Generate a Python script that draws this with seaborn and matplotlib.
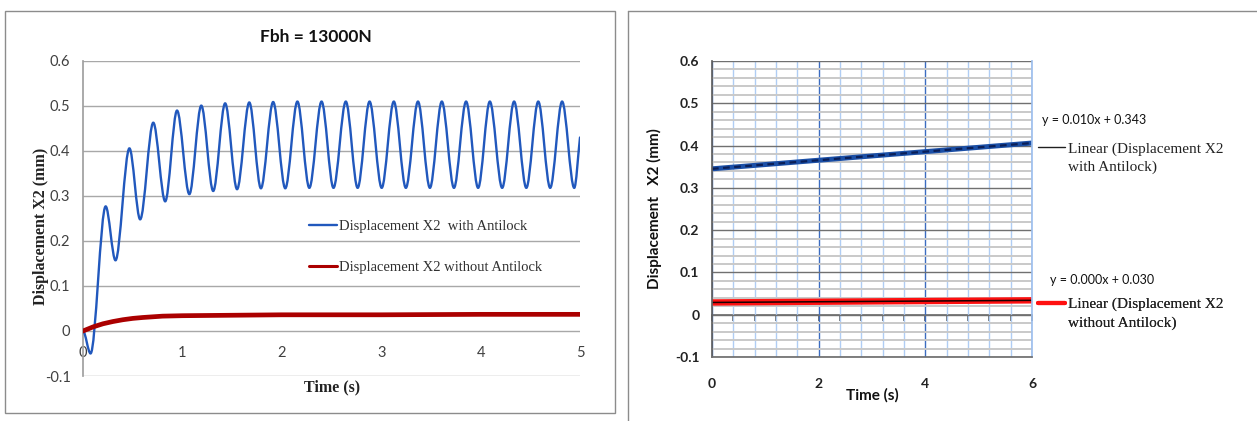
import matplotlib
matplotlib.use("Agg")
import matplotlib.pyplot as plt
import seaborn as sns
from matplotlib.ticker import FixedLocator, MultipleLocator
from matplotlib.lines import Line2D
from matplotlib.patches import Rectangle, PathPatch
from matplotlib.path import Path

# ---------------- data ----------------
# left chart: blue curve read at its start, peaks / troughs and end
blue_t = [0.000, 0.076, 0.228, 0.327, 0.467, 0.575, 0.707, 0.827, 0.946, 1.070,
          1.190, 1.310, 1.430, 1.550, 1.673, 1.790, 1.913, 2.035, 2.157, 2.277,
          2.400, 2.520, 2.644, 2.763, 2.883, 3.005, 3.127, 3.248, 3.370, 3.490,
          3.610, 3.732, 3.854, 3.975, 4.093, 4.217, 4.337, 4.460, 4.580, 4.700,
          4.820, 4.942, 5.000]
blue_y = [0.000, -0.050, 0.277, 0.157, 0.406, 0.248, 0.463, 0.288, 0.490, 0.304,
          0.501, 0.311, 0.506, 0.315, 0.508, 0.317, 0.509, 0.317, 0.510, 0.318,
          0.510, 0.318, 0.510, 0.318, 0.510, 0.318, 0.510, 0.318, 0.510, 0.318,
          0.510, 0.318, 0.510, 0.318, 0.510, 0.318, 0.510, 0.318, 0.510, 0.318,
          0.510, 0.318, 0.430]
red_t = [0.0, 0.1, 0.2, 0.3, 0.4, 0.5, 0.6, 0.8, 1.0, 1.5, 2.0, 3.0, 4.0, 5.0]
red_y = [0.000, 0.009, 0.016, 0.021, 0.025, 0.028, 0.030, 0.033, 0.034, 0.035,
         0.036, 0.036, 0.037, 0.037]
left_labels = ["Displacement X2  with Antilock", "Displacement X2 without Antilock"]
left_xticks = [0, 1, 2, 3, 4, 5]
yticks = [-0.1, 0.0, 0.1, 0.2, 0.3, 0.4, 0.5, 0.6]
ytick_labels = ["-0.1", "0", "0.1", "0.2", "0.3", "0.4", "0.5", "0.6"]

# right chart: linear trend lines
trend_t = [0.0, 6.0]
trend_with = [0.345, 0.406]
trend_without = [0.029, 0.034]
right_xticks = [0, 2, 4, 6]
right_minor_x = [0.4, 0.8, 1.2, 1.6, 2.4, 2.8, 3.2, 3.6, 4.4, 4.8, 5.2, 5.6, 6.0]
equations = ["y = 0.010x + 0.343", "y = 0.000x + 0.030"]
right_labels = [("Linear (Displacement X2", "with Antilock)"),
                ("Linear (Displacement X2", "without Antilock)")]

# ---------------- style ----------------
sns.set_theme(style="white")
plt.rcParams["font.family"] = ["Lato", "DejaVu Sans"]
SERIF = "Liberation Serif"
BLUE = "#2158bd"
DRED = "#ab0000"

W, H = 1257, 421
fig = plt.figure(figsize=(W / 100, H / 100), dpi=100)
fig.patch.set_facecolor("white")

# frames
fig.add_artist(Rectangle((5 / W, 1 - 413 / H), 610 / W, 402 / H, transform=fig.transFigure,
                         fill=False, ec="#8c8c8c", lw=1))
fig.add_artist(Line2D([628 / W, 1.0], [1 - 11 / H, 1 - 11 / H], transform=fig.transFigure,
                      color="#8c8c8c", lw=1))
fig.add_artist(Line2D([628 / W, 628 / W], [0, 1 - 11 / H], transform=fig.transFigure,
                      color="#8c8c8c", lw=1))

# ================= left chart =================
axL = fig.add_axes([83 / W, 1 - 376 / H, 497 / W, 315 / H])


def smoothed_path(xs, ys):
    """Excel-style 'smoothed line': cubic Bezier segments through the given points,
    flat tangents at the read extrema, straight-ish tangent into the last point."""
    verts = [(xs[0], ys[0])]
    codes = [Path.MOVETO]
    n = len(xs)
    for i in range(1, n):
        x0, y0, x1, y1 = xs[i - 1], ys[i - 1], xs[i], ys[i]
        dx = x1 - x0
        c1 = (x0 + dx / 3, y0)
        if i == n - 1:
            c2 = (x1 - dx / 3, y1 - (y1 - y0) / 3)
        else:
            c2 = (x1 - dx / 3, y1)
        verts += [c1, c2, (x1, y1)]
        codes += [Path.CURVE4] * 3
    return Path(verts, codes)


axL.add_patch(PathPatch(smoothed_path(blue_t, blue_y), fill=False, ec=BLUE, lw=1.7,
                        joinstyle="round", capstyle="round", zorder=3))
sns.lineplot(x=red_t, y=red_y, ax=axL, color=DRED, lw=3.4, estimator=None, sort=False, zorder=4)
axL.set_xlim(0, 5)
axL.set_ylim(-0.1, 0.6)
axL.set_yticks(yticks, ytick_labels)
axL.set_xticks(left_xticks, [str(v) for v in left_xticks])
axL.grid(axis="y", color="#a8a8a8", lw=1)
axL.set_axisbelow(True)
for s in ("top", "right"):
    axL.spines[s].set_visible(False)
axL.spines["left"].set_color("#a0a0a0")
axL.spines["bottom"].set_position(("data", 0))
axL.spines["bottom"].set_visible(False)
axL.tick_params(axis="x", length=0, pad=11, labelsize=10.5, labelcolor="#404040")
axL.tick_params(axis="y", length=0, pad=9, labelsize=10.5, labelcolor="#404040")
axL.set_xlabel("Time (s)", fontfamily=SERIF, fontweight="bold", fontsize=11.5, color="#222222")
axL.xaxis.set_label_coords(0.501, -0.035)
axL.xaxis.label.set_va("center")
axL.set_ylabel("Displacement X2 (mm)", fontfamily=SERIF, fontweight="bold", fontsize=11.5,
               color="#222222")
axL.yaxis.set_label_coords(-0.084, 0.476)
axL.yaxis.label.set_va("center")
fig.text(316 / W, 1 - 37 / H, "Fbh = 13000N", ha="center", va="center",
         fontsize=12.5, fontweight="bold", color="#111111")
hL = [Line2D([], [], color=BLUE, lw=1.7), Line2D([], [], color=DRED, lw=2.2)]
axL.legend(hL, left_labels, loc="upper left", bbox_to_anchor=(0.455, 0.497), frameon=False,
           prop={"family": SERIF, "size": 10.5}, handlelength=1.9, handletextpad=0.15,
           labelspacing=1.95, borderpad=0, borderaxespad=0, labelcolor="#303030")

# ================= right chart =================
axR = fig.add_axes([712 / W, 1 - 357 / H, 320 / W, 296 / H])
axR.set_xlim(0, 6)
axR.set_ylim(-0.1, 0.6)
axR.xaxis.set_major_locator(FixedLocator(right_xticks))
axR.xaxis.set_minor_locator(FixedLocator(right_minor_x))
axR.yaxis.set_major_locator(FixedLocator(yticks))
axR.yaxis.set_minor_locator(MultipleLocator(0.02))
axR.grid(which="minor", axis="y", color="#c9c9c9", lw=1.4)
axR.grid(which="major", axis="y", color="#707070", lw=1)
axR.grid(which="minor", axis="x", color="#b0cdf4", lw=1)
axR.grid(which="major", axis="x", color="#3c6cc0", lw=1)
axR.set_axisbelow(True)

sns.lineplot(x=trend_t, y=trend_with, ax=axR, color="#1b4fa6", lw=3.6)
sns.lineplot(x=trend_t, y=trend_with, ax=axR, color="#0a1f58", lw=1.6, linestyle=(0, (3, 2)))
sns.lineplot(x=trend_t, y=trend_without, ax=axR, color="#ff1010", lw=4.6)
sns.lineplot(x=trend_t, y=trend_without, ax=axR, color="#1a0000", lw=1.1)

axR.set_xticks(right_xticks, [str(v) for v in right_xticks], fontweight="bold")
axR.set_yticks(yticks, ytick_labels, fontweight="bold")
axR.tick_params(axis="x", which="both", length=0, pad=15, labelsize=10, labelcolor="#222222")
axR.tick_params(axis="y", which="major", length=5, width=1, color="#606060", direction="out",
                pad=4, labelsize=10, labelcolor="#222222")
axR.tick_params(axis="y", which="minor", length=0)
axR.spines["top"].set_visible(False)
axR.spines["bottom"].set_color("#707070")
axR.spines["left"].set_color("#606060")
axR.spines["right"].set_color("#9fc0ee")

# tick marks along the zero line
ylo, yhi = axR.get_ylim()
sec = axR.secondary_xaxis((0 - ylo) / (yhi - ylo))
sec.xaxis.set_major_locator(FixedLocator(right_minor_x + right_xticks))
sec.tick_params(length=4, direction="out", color="#606060", labelbottom=False, labeltop=False)
sec.spines["bottom"].set_color("#707070")
sec.spines["top"].set_visible(False)

axR.set_xlabel("Time (s)", fontweight="bold", fontsize=11, color="#111111")
axR.xaxis.set_label_coords(0.5, -0.128)
axR.xaxis.label.set_va("center")
axR.set_ylabel("Displacement   X2 (mm)", fontweight="bold", fontsize=11, color="#111111")
axR.yaxis.set_label_coords(-0.181, 0.5)
axR.yaxis.label.set_va("center")

axR.text(6.19, 0.461, equations[0], fontsize=9, va="center", ha="left", clip_on=False,
         color="#111111")
axR.text(6.34, 0.083, equations[1], fontsize=9, va="center", ha="left", clip_on=False,
         color="#111111")

hR = [(Line2D([], [], color="#202020", lw=1), Line2D([], [], alpha=0)),
      (Line2D([], [], color="#ff1010", lw=3), Line2D([], [], alpha=0))]
anchors = [(1.019, 0.727), (1.019, 0.201)]
for (h1, h2), labs, anc in zip(hR, right_labels, anchors):
    leg = axR.legend([h1, h2], list(labs), loc="upper left", bbox_to_anchor=anc, frameon=False,
                     prop={"family": SERIF, "size": 11}, handlelength=1.75, handletextpad=0.2,
                     labelspacing=0.3, borderpad=0, borderaxespad=0, labelcolor="#222222")
    axR.add_artist(leg)

fig.savefig("out.png", dpi=100, facecolor="white")
